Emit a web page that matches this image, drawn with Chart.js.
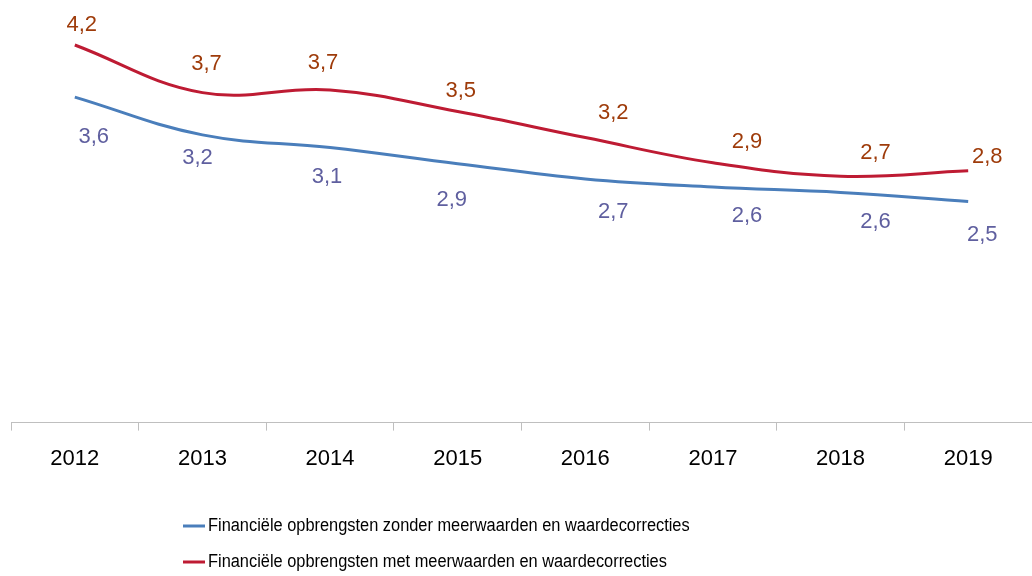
<!DOCTYPE html>
<html>
<head>
<meta charset="utf-8">
<script src="https://cdn.jsdelivr.net/npm/chart.js@4/dist/chart.umd.min.js"></script>
<style>
  html, body { margin: 0; padding: 0; background: #fff; }
  #wrap { width: 1032px; height: 576px; }
</style>
</head>
<body>
<div id="wrap"><canvas id="chart1" width="1032" height="576"></canvas></div>
<script>
// Data
const years = ['2012', '2013', '2014', '2015', '2016', '2017', '2018', '2019'];
const zonderValues = [3.62, 3.20, 3.06, 2.88, 2.71, 2.62, 2.56, 2.46];
const metValues = [4.20, 3.67, 3.70, 3.46, 3.17, 2.89, 2.74, 2.80];
const seriesNames = [
    'Financiële opbrengsten zonder meerwaarden en waardecorrecties',
    'Financiële opbrengsten met meerwaarden en waardecorrecties'
];

const blue = '#4A7EBB';
const red = '#BE1B33';

// value labels, drawn next to each point
const valueLabels = {
    id: 'valueLabels',
    afterDatasetsDraw(chart, args, opts) {
        const ctx = chart.ctx;
        ctx.save();
        ctx.font = '22px "Liberation Sans", Arial, sans-serif';
        ctx.textAlign = 'center';
        ctx.textBaseline = 'middle';
        chart.data.datasets.forEach((ds, i) => {
            const meta = chart.getDatasetMeta(i);
            const nudge = opts.nudges[i];
            ctx.fillStyle = opts.colors[i];
            meta.data.forEach((pt, j) => {
                const txt = ds.data[j].toFixed(1).replace('.', ',');
                ctx.fillText(txt, pt.x + nudge[j][0], pt.y + nudge[j][1]);
            });
        });
        ctx.restore();
    }
};

// legend with line samples, stacked in two rows
const lineLegend = {
    id: 'lineLegend',
    afterDraw(chart, args, opts) {
        const ctx = chart.ctx;
        ctx.save();
        ctx.font = opts.font;
        ctx.textBaseline = 'middle';
        ctx.textAlign = 'left';
        chart.data.datasets.forEach((ds, i) => {
            const y = opts.rows[i];
            ctx.strokeStyle = ds.borderColor;
            ctx.lineWidth = 3;
            ctx.beginPath();
            ctx.moveTo(opts.x, y);
            ctx.lineTo(opts.x + 22, y);
            ctx.stroke();
            // narrow the text a bit, like the original font
            ctx.save();
            ctx.translate(opts.x + 25, y);
            ctx.scale(opts.squeeze, 1);
            ctx.fillStyle = '#000';
            ctx.fillText(ds.label, 0, 0);
            ctx.restore();
        });
        ctx.restore();
    }
};

const ctx1 = document.getElementById('chart1').getContext('2d');
const chart1 = new Chart(ctx1, {
    type: 'line',
    data: {
        labels: years,
        datasets: [{
            label: seriesNames[0],
            data: zonderValues,
            borderColor: blue,
            backgroundColor: blue,
            borderWidth: 3,
            pointRadius: 0,
            tension: 0.4
        }, {
            label: seriesNames[1],
            data: metValues,
            borderColor: red,
            backgroundColor: red,
            borderWidth: 3,
            pointRadius: 0,
            tension: 0.4
        }]
    },
    options: {
        responsive: false,
        animation: false,
        layout: { padding: { left: 11, right: 0, top: 18, bottom: 89 } },
        scales: {
            x: {
                offset: true,
                grid: {
                    offset: true,
                    drawOnChartArea: false,
                    tickLength: 8,
                    color: '#BFBFBF'
                },
                border: { color: '#BFBFBF', width: 1 },
                ticks: {
                    color: '#000',
                    padding: 15,
                    font: { family: '"Liberation Sans", Arial, sans-serif', size: 22 }
                }
            },
            y: {
                display: false,
                min: 0,
                max: 4.5
            }
        },
        plugins: {
            legend: { display: false },
            tooltip: { enabled: false },
            valueLabels: {
                colors: ['#5F5F9F', '#9E3B0A'],
                nudges: [
                    [[19, 40], [-5, 23], [-3, 29], [-6, 36], [28, 33], [34, 29], [35, 30], [14, 34]],
                    [[7, -20], [4, -29], [-7, -27], [3, -21], [28, -25], [34, -21], [35, -23], [19, -14]]
                ]
            },
            lineLegend: {
                x: 183,
                rows: [526, 562],
                squeeze: 0.91,
                font: '18px "Liberation Sans", Arial, sans-serif'
            }
        }
    },
    plugins: [valueLabels, lineLegend]
});
</script>
</body>
</html>
